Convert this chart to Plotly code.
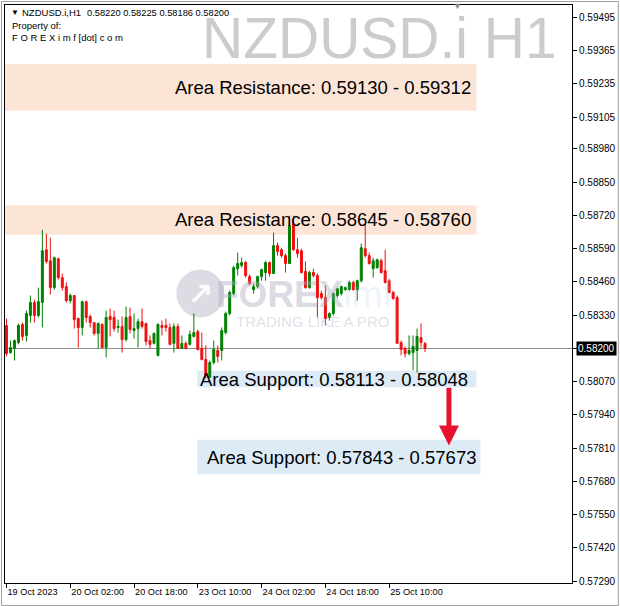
import plotly.graph_objects as go

# ---------------- data ----------------
bar_index = list(range(106))
opens = [0.58290, 0.58184, 0.58200, 0.58223, 0.58294, 0.58251, 0.58329, 0.58380, 0.58329, 0.58380,
         0.58586, 0.58543, 0.58438, 0.58551, 0.58477, 0.58442, 0.58387, 0.58407, 0.58317, 0.58282,
         0.58383, 0.58325, 0.58301, 0.58259, 0.58294, 0.58204, 0.58325, 0.58321, 0.58282, 0.58286,
         0.58235, 0.58325, 0.58270, 0.58278, 0.58305, 0.58298, 0.58231, 0.58220, 0.58173, 0.58290,
         0.58290, 0.58282, 0.58220, 0.58286, 0.58200, 0.58220, 0.58216, 0.58247, 0.58266, 0.58200,
         0.58157, 0.58087, 0.58145, 0.58192, 0.58192, 0.58262, 0.58337, 0.58415, 0.58512, 0.58524,
         0.58536, 0.58481, 0.58430, 0.58442, 0.58481, 0.58497, 0.58536, 0.58493, 0.58602, 0.58586,
         0.58563, 0.58532, 0.58688, 0.58586, 0.58582, 0.58501, 0.58438, 0.58497, 0.58485, 0.58415,
         0.58399, 0.58321, 0.58337, 0.58407, 0.58415, 0.58430, 0.58430, 0.58458, 0.58430, 0.58465,
         0.58590, 0.58563, 0.58512, 0.58516, 0.58543, 0.58504, 0.58465, 0.58419, 0.58399, 0.58223,
         0.58200, 0.58180, 0.58184, 0.58192, 0.58243, 0.58220]
highs = [0.58317, 0.58231, 0.58235, 0.58298, 0.58301, 0.58348, 0.58407, 0.58391, 0.58438, 0.58664,
         0.58649, 0.58633, 0.58559, 0.58555, 0.58493, 0.58458, 0.58415, 0.58407, 0.58321, 0.58387,
         0.58387, 0.58333, 0.58301, 0.58301, 0.58298, 0.58348, 0.58356, 0.58348, 0.58313, 0.58325,
         0.58364, 0.58360, 0.58337, 0.58317, 0.58356, 0.58298, 0.58251, 0.58262, 0.58298, 0.58309,
         0.58317, 0.58298, 0.58298, 0.58298, 0.58251, 0.58227, 0.58270, 0.58337, 0.58274, 0.58262,
         0.58212, 0.58153, 0.58231, 0.58212, 0.58282, 0.58344, 0.58426, 0.58524, 0.58575, 0.58555,
         0.58543, 0.58489, 0.58454, 0.58485, 0.58512, 0.58543, 0.58540, 0.58653, 0.58614, 0.58594,
         0.58571, 0.58719, 0.58719, 0.58633, 0.58590, 0.58540, 0.58504, 0.58512, 0.58493, 0.58426,
         0.58446, 0.58341, 0.58419, 0.58438, 0.58446, 0.58442, 0.58465, 0.58465, 0.58469, 0.58610,
         0.58688, 0.58575, 0.58555, 0.58551, 0.58551, 0.58586, 0.58473, 0.58426, 0.58407, 0.58231,
         0.58208, 0.58251, 0.58251, 0.58278, 0.58298, 0.58225]
lows = [0.58169, 0.58180, 0.58153, 0.58216, 0.58231, 0.58227, 0.58301, 0.58301, 0.58321, 0.58282,
        0.58532, 0.58411, 0.58430, 0.58469, 0.58426, 0.58380, 0.58376, 0.58278, 0.58204, 0.58251,
        0.58301, 0.58282, 0.58251, 0.58200, 0.58200, 0.58165, 0.58247, 0.58266, 0.58262, 0.58184,
        0.58227, 0.58259, 0.58239, 0.58204, 0.58278, 0.58212, 0.58200, 0.58216, 0.58169, 0.58251,
        0.58266, 0.58212, 0.58184, 0.58200, 0.58200, 0.58196, 0.58212, 0.58243, 0.58192, 0.58153,
        0.58083, 0.58087, 0.58138, 0.58145, 0.58153, 0.58255, 0.58329, 0.58407, 0.58485, 0.58516,
        0.58477, 0.58446, 0.58415, 0.58434, 0.58465, 0.58465, 0.58481, 0.58493, 0.58563, 0.58555,
        0.58497, 0.58532, 0.58582, 0.58555, 0.58493, 0.58434, 0.58434, 0.58477, 0.58321, 0.58391,
        0.58290, 0.58309, 0.58329, 0.58399, 0.58407, 0.58426, 0.58426, 0.58426, 0.58387, 0.58458,
        0.58555, 0.58528, 0.58477, 0.58512, 0.58493, 0.58454, 0.58415, 0.58391, 0.58220, 0.58173,
        0.58165, 0.58173, 0.58114, 0.58106, 0.58204, 0.58186]
closes = [0.58180, 0.58204, 0.58231, 0.58290, 0.58247, 0.58337, 0.58380, 0.58329, 0.58383, 0.58582,
          0.58540, 0.58438, 0.58555, 0.58477, 0.58438, 0.58387, 0.58407, 0.58313, 0.58282, 0.58383,
          0.58321, 0.58301, 0.58259, 0.58298, 0.58204, 0.58321, 0.58313, 0.58278, 0.58286, 0.58235,
          0.58321, 0.58274, 0.58278, 0.58305, 0.58286, 0.58227, 0.58216, 0.58259, 0.58294, 0.58282,
          0.58282, 0.58216, 0.58286, 0.58200, 0.58220, 0.58200, 0.58255, 0.58262, 0.58196, 0.58157,
          0.58095, 0.58145, 0.58196, 0.58169, 0.58270, 0.58337, 0.58419, 0.58516, 0.58532, 0.58536,
          0.58485, 0.58454, 0.58442, 0.58481, 0.58508, 0.58536, 0.58493, 0.58602, 0.58579, 0.58563,
          0.58532, 0.58680, 0.58586, 0.58571, 0.58497, 0.58438, 0.58497, 0.58485, 0.58399, 0.58399,
          0.58317, 0.58337, 0.58415, 0.58434, 0.58442, 0.58438, 0.58458, 0.58430, 0.58465, 0.58594,
          0.58563, 0.58532, 0.58543, 0.58547, 0.58497, 0.58458, 0.58419, 0.58395, 0.58220, 0.58196,
          0.58180, 0.58192, 0.58208, 0.58247, 0.58223, 0.58200]

time_tick_index = [0, 16, 32, 48, 64, 80, 96]
time_tick_labels = ["19 Oct 2023", "20 Oct 02:00", "20 Oct 18:00", "23 Oct 10:00",
                    "24 Oct 02:00", "24 Oct 18:00", "25 Oct 10:00"]
price_ticks = [0.59495, 0.59365, 0.59235, 0.59105, 0.58980, 0.58850, 0.58720, 0.58590, 0.58460,
               0.58330, 0.58200, 0.58070, 0.57940, 0.57810, 0.57680, 0.57550, 0.57420, 0.57290]

zone_labels = ["Area Resistance: 0.59130 - 0.59312", "Area Resistance: 0.58645 - 0.58760",
               "Area Support: 0.58113 - 0.58048", "Area Support: 0.57843 - 0.57673"]
zone_low = [0.59130, 0.58645, 0.58048, 0.57708]
zone_high = [0.59312, 0.58760, 0.58113, 0.57843]
zone_start = [None, None, 47.9, 47.9]
zone_end = [117.9, 117.9, 117.9, 118.9]
zone_kind = ["res", "res", "sup", "sup"]

current_price = 0.58200
header_values = "0.58220 0.58225 0.58186 0.58200"
symbol = "NZDUSD.i"

arrow_bar = 111
arrow_from = 0.58052
arrow_to = 0.57821

# ---------------- style ----------------
GREEN = "#008000"
RED = "#F01010"
RES_FILL = "#FCE4D6"
SUP_FILL = "#DDEBF7"
FONT = "Liberation Sans, Arial, sans-serif"
X_RANGE = [-0.375, 141.875]
Y_RANGE = [0.57283, 0.59543]

W, H = 620, 606
ML, MR, MT, MB = 4, 47, 4, 23
PW, PH = W - ML - MR, H - MT - MB


def px_x(p):
    return (p - ML) / PW


def px_y(p):
    return (H - MB - p) / PH


fig = go.Figure()
fig.add_trace(go.Candlestick(
    x=bar_index, open=opens, high=highs, low=lows, close=closes,
    increasing=dict(line=dict(color=GREEN, width=1), fillcolor=GREEN),
    decreasing=dict(line=dict(color=RED, width=1), fillcolor=RED),
    whiskerwidth=0, showlegend=False, hoverinfo="skip"))

shapes = []
annotations = []
for lab, lo, hi, x0, x1, kind in zip(zone_labels, zone_low, zone_high, zone_start, zone_end, zone_kind):
    shapes.append(dict(type="rect", xref="x", yref="y",
                       x0=X_RANGE[0] if x0 is None else x0, x1=x1, y0=lo, y1=hi,
                       fillcolor=RES_FILL if kind == "res" else SUP_FILL,
                       line=dict(width=0), layer="below"))
    if kind == "res":
        annotations.append(dict(x=x1 - 0.8, y=(lo + hi) / 2, xref="x", yref="y", text=lab,
                                xanchor="right", yanchor="middle", showarrow=False,
                                font=dict(family=FONT, size=18.5, color="black")))
    else:
        annotations.append(dict(x=x0 + (0.1 if lab.endswith("0.58048") else 1.8), y=(lo + hi) / 2,
                                xref="x", yref="y", text=lab,
                                xanchor="left", yanchor="middle", showarrow=False,
                                font=dict(family=FONT, size=18.5, color="black")))

# current price line
shapes.append(dict(type="line", xref="paper", yref="y", x0=0, x1=1, y0=current_price, y1=current_price,
                   line=dict(color="#8C8C8C", width=1), layer="below"))

# FOREXimf logo circle (watermark)
shapes.append(dict(type="circle", xref="paper", yref="paper",
                   x0=px_x(176), x1=px_x(224), y0=px_y(317), y1=px_y(269),
                   fillcolor="rgba(175,178,195,0.45)", line=dict(width=0), layer="below"))
# outer frame
shapes.append(dict(type="rect", xref="paper", yref="paper",
                   x0=px_x(0.5), x1=px_x(619.5), y0=px_y(605.5), y1=px_y(0.5),
                   line=dict(color="#A0A0A0", width=1), fillcolor="rgba(0,0,0,0)"))

# arrow
annotations.append(dict(x=arrow_bar, y=arrow_to, ax=arrow_bar, ay=arrow_from, xref="x", yref="y",
                        axref="x", ayref="y", text="", showarrow=True, arrowhead=2, arrowsize=0.8,
                        arrowwidth=5, arrowcolor="#E8112D", standoff=0, startstandoff=0))

# big symbol watermark
annotations.append(dict(x=px_x(560), y=px_y(37), xref="paper", yref="paper", text=symbol + " H1",
                        xanchor="right", yanchor="middle", showarrow=False,
                        font=dict(family=FONT, size=57, color="#CCCCCC")))

# header texts
annotations.append(dict(x=px_x(8), y=px_y(12), xref="paper", yref="paper", text="▼",
                        xanchor="left", yanchor="middle", showarrow=False,
                        font=dict(family=FONT, size=8, color="black")))
annotations.append(dict(x=px_x(19), y=px_y(12), xref="paper", yref="paper",
                        text=symbol + ",H1",
                        xanchor="left", yanchor="middle", showarrow=False,
                        font=dict(family=FONT, size=9.5, color="black")))
annotations.append(dict(x=px_x(84), y=px_y(12), xref="paper", yref="paper",
                        text=header_values,
                        xanchor="left", yanchor="middle", showarrow=False,
                        font=dict(family=FONT, size=9.3, color="black")))
annotations.append(dict(x=px_x(9), y=px_y(25), xref="paper", yref="paper", text="Property of:",
                        xanchor="left", yanchor="middle", showarrow=False,
                        font=dict(family=FONT, size=9.5, color="black")))
annotations.append(dict(x=px_x(9), y=px_y(37), xref="paper", yref="paper",
                        text="F O R E X i m f [dot] c o m",
                        xanchor="left", yanchor="middle", showarrow=False,
                        font=dict(family=FONT, size=9.5, color="black")))

# FOREXimf text watermark
annotations.append(dict(x=px_x(200), y=px_y(292), xref="paper", yref="paper", text="<b>↗</b>",
                        xanchor="center", yanchor="middle", showarrow=False,
                        font=dict(family=FONT, size=30, color="rgba(255,255,255,0.9)")))
annotations.append(dict(x=px_x(214), y=px_y(294), xref="paper", yref="paper",
                        text="<b>FOREX</b><span style='color:rgba(170,195,235,0.5)'>imf</span>",
                        xanchor="left", yanchor="middle", showarrow=False,
                        font=dict(family=FONT, size=37, color="rgba(165,168,188,0.42)")))
annotations.append(dict(x=px_x(234), y=px_y(321), xref="paper", yref="paper",
                        text="TRADING LIKE A PRO",
                        xanchor="left", yanchor="middle", showarrow=False,
                        font=dict(family=FONT, size=15, color="rgba(175,178,195,0.4)")))

# chart-shift marker
annotations.append(dict(x=px_x(458), y=px_y(5), xref="paper", yref="paper", text="▼",
                        xanchor="center", yanchor="middle", showarrow=False,
                        font=dict(family=FONT, size=9, color="#8A8A8A")))

# current price tag on axis
annotations.append(dict(x=1, y=current_price, xref="paper", yref="y",
                        text="0.58200", xanchor="left", yanchor="middle", showarrow=False,
                        xshift=4, bgcolor="black", borderpad=1,
                        font=dict(family=FONT, size=10, color="white")))

fig.update_layout(
    width=W, height=H, margin=dict(l=ML, r=MR, t=MT, b=MB),
    paper_bgcolor="white", plot_bgcolor="white",
    shapes=shapes, annotations=annotations, showlegend=False,
    xaxis=dict(range=X_RANGE, showgrid=False, zeroline=False, showline=True, linecolor="black",
               linewidth=1, mirror=True, ticks="outside", ticklen=4, tickcolor="black",
               tickvals=time_tick_index, ticktext=time_tick_labels, ticklabelposition="outside right",
               tickfont=dict(family=FONT, size=9.2, color="black"), rangeslider=dict(visible=False),
               fixedrange=True),
    yaxis=dict(range=Y_RANGE, side="right", showgrid=False, zeroline=False, showline=True,
               linecolor="black", linewidth=1, mirror=True, ticks="outside", ticklen=4,
               tickcolor="black", tickvals=price_ticks, ticktext=[f"{v:.5f}" for v in price_ticks],
               tickfont=dict(family=FONT, size=10, color="black"), fixedrange=True),
)

fig.write_html("out.html", config={"displayModeBar": False},
               post_script="document.body.style.margin='0';document.body.style.overflow='hidden';")
